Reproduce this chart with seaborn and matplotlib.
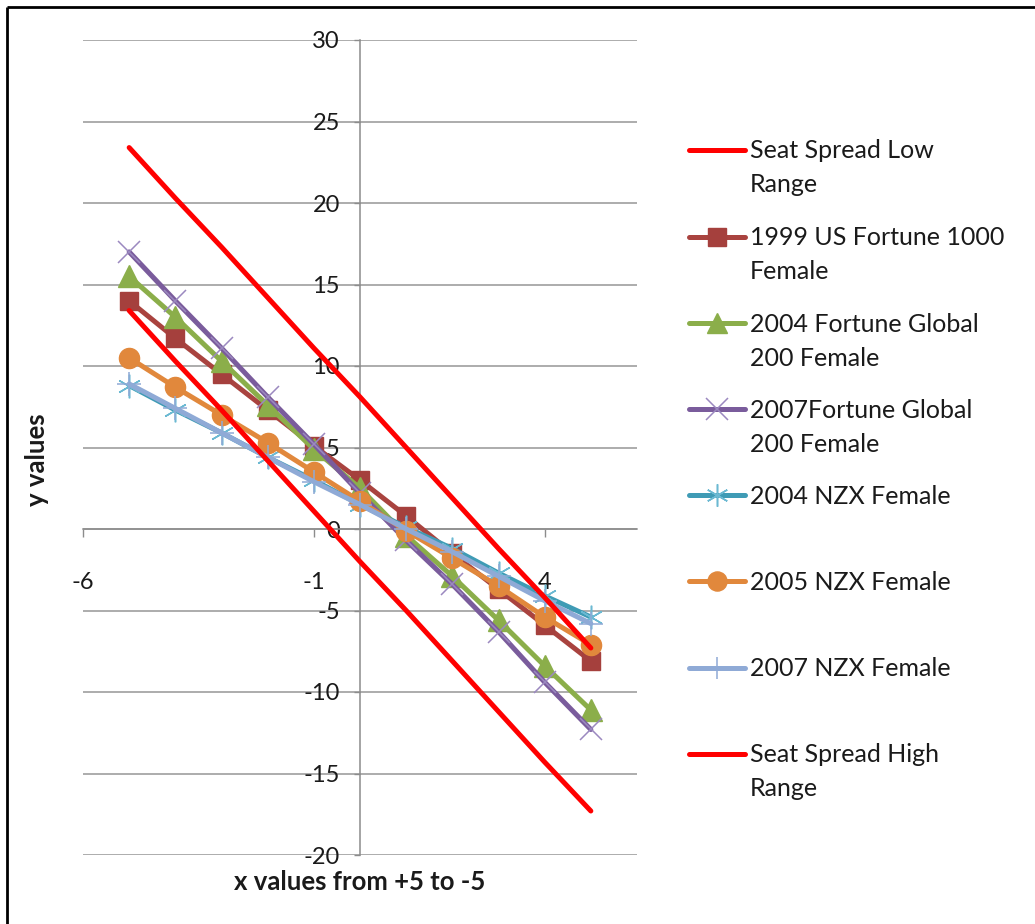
import numpy as np
import pandas as pd
import matplotlib
matplotlib.use("Agg")
import matplotlib.pyplot as plt
from matplotlib.lines import Line2D
import seaborn as sns

# ---- data -------------------------------------------------------------
x_vals = [-5, -4, -3, -2, -1, 0, 1, 2, 3, 4, 5]

low_range = [23.4, 20.3, 17.3, 14.2, 11.1, 8.1, 5.0, 1.9, -1.2, -4.2, -7.3]
us_fortune_1999 = [14.0, 11.7, 9.5, 7.3, 5.1, 3.0, 0.8, -1.5, -3.7, -5.9, -8.1]
global_200_2004 = [15.5, 13.0, 10.3, 7.6, 4.9, 2.5, -0.4, -2.9, -5.6, -8.4, -11.1]
global_200_2007 = [17.0, 14.0, 11.1, 8.1, 5.2, 2.2, -0.7, -3.4, -6.3, -9.4, -12.3]
nzx_2004 = [8.8, 7.3, 5.9, 4.4, 3.0, 1.5, 0.1, -1.2, -2.7, -4.1, -5.4]
nzx_2005 = [10.5, 8.7, 7.0, 5.3, 3.5, 1.7, -0.1, -1.8, -3.5, -5.4, -7.1]
nzx_2007 = [8.9, 7.4, 5.9, 4.4, 2.9, 1.5, 0.0, -1.4, -2.9, -4.4, -5.8]
high_range = [13.4, 10.3, 7.3, 4.2, 1.1, -2.0, -5.0, -8.1, -11.2, -14.3, -17.3]

series_labels = [
    "Seat Spread Low\nRange",
    "1999 US Fortune 1000\nFemale",
    "2004 Fortune Global\n200 Female",
    "2007Fortune Global\n200 Female",
    "2004 NZX Female",
    "2005 NZX Female",
    "2007 NZX Female",
    "Seat Spread High\nRange",
]
series_values = [low_range, us_fortune_1999, global_200_2004, global_200_2007,
                 nzx_2004, nzx_2005, nzx_2007, high_range]

x_ticks = [-6, -1, 4]
y_ticks = [-20, -15, -10, -5, 0, 5, 10, 15, 20, 25, 30]

# ---- styles -----------------------------------------------------------
LW = 3.6
styles = [
    dict(color="#FF0000", marker=None, zorder=6),
    dict(color="#A9433F", marker="s", ms=13.5, mfc="#A5403D", mec="#A5403D", mew=1, zorder=3),
    dict(color="#8BAE4A", marker="^", ms=15.5, mfc="#8BAE4A", mec="#8BAE4A", mew=1, zorder=3.1),
    dict(color="#7A5C9C", marker="x", ms=16, mfc="none", mec="#9B89C0", mew=1.1, zorder=3.2),
    dict(color="#3F9BB5", marker=(6, 2, 0), ms=17, mfc="none", mec="#6BB9D2", mew=1.1, zorder=3.3),
    dict(color="#E1883C", marker="o", ms=14.5, mfc="#E1883C", mec="#E1883C", mew=1, zorder=3.4),
    dict(color="#8FAAD6", marker="+", ms=17, mfc="none", mec="#8FAAD6", mew=1.1, zorder=3.5),
    dict(color="#FF0000", marker=None, zorder=6),
]

sns.set_theme(style="white")
plt.rcParams["font.family"] = ["Lato", "DejaVu Sans"]

TEXT = "#1A1A1A"
W, H = 1035, 924
fig = plt.figure(figsize=(W / 100, H / 100), dpi=100)
fig.patch.set_facecolor("white")
fig.patch.set_edgecolor("white")
fig.patch.set_linewidth(0)

def fx(px):
    return px / W

def fy(py):
    return 1 - py / H

ax = fig.add_axes([fx(83), fy(855), fx(637) - fx(83), fy(40) - fy(855)])
ax.set_facecolor("white")

for vals, st in zip(series_values, styles):
    df = pd.DataFrame({"x": x_vals, "y": vals})
    kw = dict(color=st["color"], lw=LW, zorder=st["zorder"], legend=False,
              solid_capstyle="round", solid_joinstyle="round")
    if st["marker"] is not None:
        kw.update(marker=st["marker"], markersize=st["ms"],
                  markerfacecolor=st["mfc"], markeredgecolor=st["mec"],
                  markeredgewidth=st["mew"])
    sns.lineplot(data=df, x="x", y="y", ax=ax, **kw)

# ---- axes -------------------------------------------------------------
ax.set_xlim(-6, 6)
ax.set_ylim(-20, 30)
ax.set_yticks(y_ticks)
ax.set_xticks(x_ticks)
ax.set_xticklabels([str(t) for t in x_ticks])
ax.set_yticklabels([str(t) for t in y_ticks])

axis_grey = "#8C8C8C"
ax.yaxis.grid(True, color="#A6A6A6", lw=1.3, zorder=0)
ax.xaxis.grid(False)
for side in ("top", "right"):
    ax.spines[side].set_visible(False)
ax.spines["left"].set_position(("data", 0))
ax.spines["bottom"].set_position(("data", 0))
for side in ("left", "bottom"):
    ax.spines[side].set_color(axis_grey)
    ax.spines[side].set_linewidth(1.1)
    ax.spines[side].set_zorder(1)

ax.tick_params(axis="y", direction="out", length=4.5, width=1, color=axis_grey,
               pad=10, labelsize=17, labelcolor=TEXT, left=True)
ax.tick_params(axis="x", direction="out", length=6, width=1, color=axis_grey,
               pad=25, labelsize=17, labelcolor=TEXT, bottom=True)
ax.set_xlabel("")
ax.set_ylabel("")

fig.text(fx(360), fy(882), "x values from +5 to -5", ha="center", va="center",
         fontsize=18.5, fontweight="bold", color=TEXT)
fig.text(fx(37), fy(460), "y values", ha="center", va="center", rotation=90,
         fontsize=18.5, fontweight="bold", color=TEXT)

# ---- legend -----------------------------------------------------------
entry_y = [150, 236.5, 323, 409, 495, 581, 667.5, 754]
LINE_STEP = 34
for lab, st, py in zip(series_labels, styles, entry_y):
    line = Line2D([fx(689), fx(745)], [fy(py), fy(py)], transform=fig.transFigure,
                  color=st["color"], lw=LW, solid_capstyle="round")
    fig.add_artist(line)
    if st["marker"] is not None:
        mk = Line2D([fx(717)], [fy(py)], transform=fig.transFigure, linestyle="none",
                    marker=st["marker"], markersize=st["ms"] * 0.95,
                    markerfacecolor=st["mfc"], markeredgecolor=st["mec"],
                    markeredgewidth=st["mew"])
        fig.add_artist(mk)
    for i, part in enumerate(lab.split("\n")):
        fig.text(fx(750), fy(py + 8.5 + i * LINE_STEP), part, ha="left",
                 va="baseline", fontsize=18, color=TEXT)

# ---- chart frame (top and left edges) -----------------------------------
fig.add_artist(Line2D([fx(7), fx(1040)], [fy(7), fy(7)], transform=fig.transFigure,
                      color="black", lw=2.0, solid_capstyle="butt"))
fig.add_artist(Line2D([fx(7), fx(7)], [fy(7), fy(930)], transform=fig.transFigure,
                      color="black", lw=2.0, solid_capstyle="butt"))

fig.savefig("out.png", dpi=100, facecolor="white", edgecolor="white")
